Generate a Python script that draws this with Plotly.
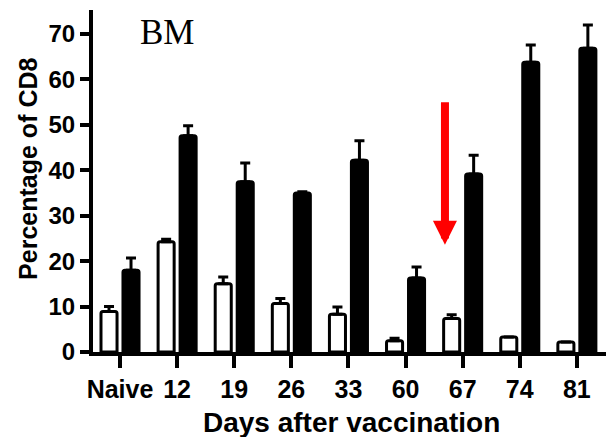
import plotly.graph_objects as go

# Days after vaccination (category labels)
days = ["Naive", "12", "19", "26", "33", "60", "67", "74", "81"]

# Percentage of CD8 – open bars
open_mean = [8.9, 24.3, 15.0, 10.7, 8.3, 2.5, 7.4, 3.3, 2.2]
open_err = [1.1, 0.5, 1.5, 1.1, 1.6, 0.5, 0.8, 0.0, 0.0]

# Percentage of CD8 – filled bars
filled_mean = [18.0, 47.6, 37.5, 35.0, 42.2, 16.3, 39.2, 63.8, 66.9]
filled_err = [2.7, 2.2, 4.1, 0.3, 4.3, 2.4, 4.1, 3.8, 5.1]

y_ticks = [0, 10, 20, 30, 40, 50, 60, 70]

FONT = "Liberation Sans, Arial, sans-serif"

fig = go.Figure()

fig.add_trace(go.Bar(
    x=days, y=open_mean,
    marker=dict(color="white", line=dict(color="black", width=3), cornerradius=2),
    error_y=dict(type="data", symmetric=False, array=open_err,
                 arrayminus=[0] * len(open_err),
                 color="black", thickness=3, width=5),
    showlegend=False,
))

fig.add_trace(go.Bar(
    x=days, y=filled_mean,
    marker=dict(color="black", line=dict(color="black", width=3), cornerradius=2),
    error_y=dict(type="data", symmetric=False, array=filled_err,
                 arrayminus=[0] * len(filled_err),
                 color="black", thickness=3, width=5),
    showlegend=False,
))

# red arrow between day 60 and day 67
fig.add_annotation(
    x=5.69, y=23.6, ax=5.69, ay=55.3,
    xref="x", yref="y", axref="x", ayref="y",
    text="", showarrow=True,
    arrowhead=2, arrowsize=0.6, arrowwidth=8, arrowcolor="#ff0000",
)

# panel label
fig.add_annotation(
    x=0.144, y=0.935, xref="paper", yref="paper",
    text="BM", showarrow=False,
    font=dict(family="Liberation Serif, Times New Roman, serif", size=35, color="black"),
    xanchor="center", yanchor="middle",
)

# axis titles
fig.add_annotation(
    x=-0.127, y=0.535, xref="paper", yref="paper",
    text="Percentage of CD8", textangle=-90, showarrow=False,
    font=dict(family=FONT, size=25, color="black", weight="bold"),
    xanchor="center", yanchor="middle",
)
fig.add_annotation(
    x=0.503, y=-0.205, xref="paper", yref="paper",
    text="Days after vaccination", showarrow=False,
    font=dict(family=FONT, size=28, color="black", weight="bold"),
    xanchor="center", yanchor="middle",
)

fig.update_layout(
    width=606, height=437,
    margin=dict(l=93, r=0, t=10, b=85),
    paper_bgcolor="white", plot_bgcolor="white",
    barmode="group", bargap=0.23, bargroupgap=0.27,
    font=dict(family=FONT, color="black"),
)

fig.update_xaxes(
    type="category", range=[-0.473, 8.51],
    showline=True, linecolor="black", linewidth=4,
    ticks="outside", ticklen=12, tickwidth=4, tickcolor="black",
    tickfont=dict(family=FONT, size=25, color="black", weight="bold"),
    showgrid=False, zeroline=False,
)

fig.update_yaxes(
    range=[0, 75.3], tickvals=y_ticks,
    showline=True, linecolor="black", linewidth=4,
    ticks="outside", ticklen=9, tickwidth=4, tickcolor="black",
    tickfont=dict(family=FONT, size=24, color="black", weight="bold"),
    showgrid=False, zeroline=False,
)

fig.write_html("out.html")
